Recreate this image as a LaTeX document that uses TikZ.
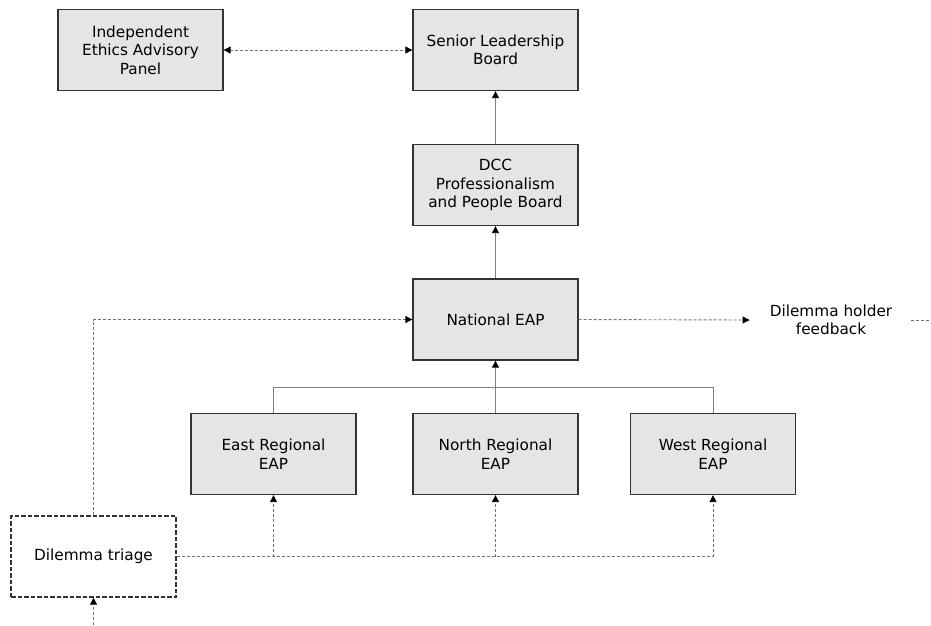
\documentclass[tikz,border=0pt]{standalone}
\usepackage{fontspec}
\setmainfont{DejaVu Sans}
\usetikzlibrary{arrows.meta}
\tikzset{
  box/.style={draw=black!80, line width=1.3pt, fill=gray!20, minimum width=165pt, minimum height=81pt, align=center, inner sep=2pt, font=\fontsize{15.3}{18.5}\selectfont},
  tribox/.style={box, fill=white, dash pattern=on 4.5pt off 2pt},
  solidc/.style={draw=gray, line width=0.9pt},
  dashc/.style={draw=gray!90!black, line width=0.9pt, dash pattern=on 3pt off 2pt},
  tip/.style={-{Triangle[length=7pt,width=7pt,color=black]}},
  tips/.style={{Triangle[length=7pt,width=7pt,color=black]}-{Triangle[length=7pt,width=7pt,color=black]}},
  lbl/.style={align=center, inner sep=0pt, font=\fontsize{15.3}{18.5}\selectfont}
}
\begin{document}
\begin{tikzpicture}[x=1pt,y=-1pt]
\useasboundingbox (0,0) rectangle (931,625);
\node[box] (ieap) at (140.5,50) {Independent\\Ethics Advisory\\Panel};
\node[box] (slb) at (495.5,50) {Senior Leadership\\Board};
\node[box] (dcc) at (495.5,185) {DCC\\Professionalism\\and People Board};
\node[box] (nat) at (495.5,319.5) {National EAP};
\node[box] (east) at (273.5,454) {East Regional\\EAP};
\node[box] (north) at (495.5,454) {North Regional\\EAP};
\node[box] (west) at (713,454) {West Regional\\EAP};
\node[tribox] (tri) at (93.5,556.5) {Dilemma triage};
\node[lbl] (fb) at (831,320) {Dilemma holder\\feedback};
\coordinate (j) at (495.5,387);
\coordinate (bot) at (93.5,625);
\coordinate (edge) at (931,320);

\draw[dashc,tips] (ieap.east) -- (slb.west);
\draw[solidc,tip] (dcc.north) -- (slb.south);
\draw[solidc,tip] (nat.north) -- (dcc.south);
\draw[solidc,tip] (north.north) -- (nat.south);
\draw[solidc] (east.north) |- (j) -| (west.north);
\draw[dashc,tip] (nat.east) -- ([xshift=-20pt]fb.west);
\draw[dashc] ([xshift=19pt]fb.east) -- (edge);
\draw[dashc,tip] (tri.north) |- (nat.west);
\draw[dashc] (tri.east) -- (tri.east -| west.south);
\draw[dashc,tip] (tri.east -| east.south) -- (east.south);
\draw[dashc,tip] (tri.east -| north.south) -- (north.south);
\draw[dashc,tip] (tri.east -| west.south) -- (west.south);
\draw[dashc,tip] (bot) -- (tri.south);
\end{tikzpicture}
\end{document}
